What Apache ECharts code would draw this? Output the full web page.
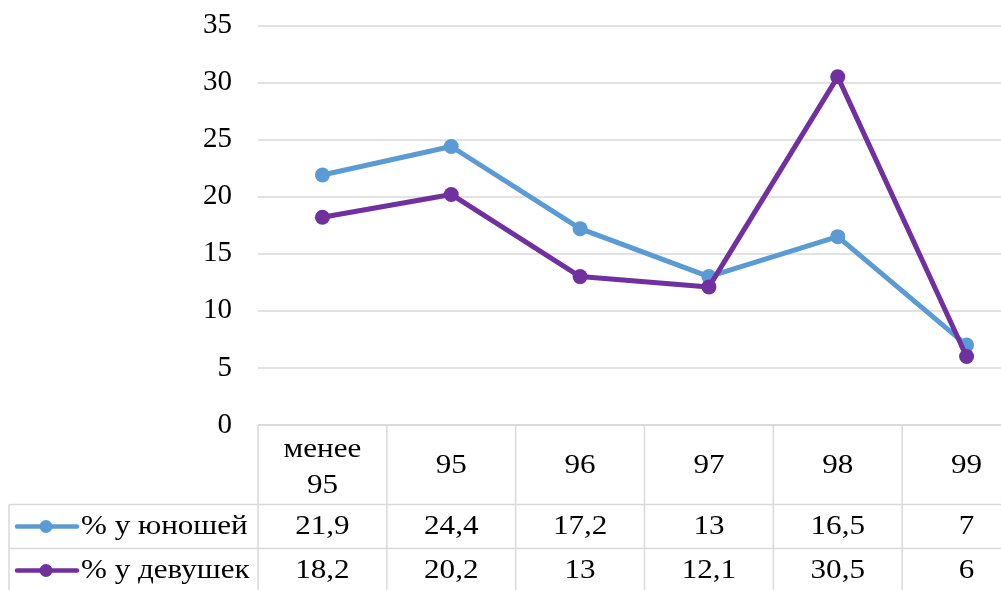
<!DOCTYPE html>
<html>
<head>
<meta charset="utf-8">
<script src="https://cdn.jsdelivr.net/npm/echarts@6/dist/echarts.min.js"></script>
<style>
  html, body { margin: 0; padding: 0; background: #fff; }
  #chart { width: 1001px; height: 590px; }
</style>
</head>
<body>
<div id="chart"></div>
<script>
// Category labels (header row of the data table)
const categories = ['менее\n95', '95', '96', '97', '98', '99'];

// Series names and values
const boysName = '% у юношей';
const girlsName = '% у девушек';
const boys = [21.9, 24.4, 17.2, 13, 16.5, 7];
const girls = [18.2, 20.2, 13, 12.1, 30.5, 6];

// Value axis range
const yMin = 0;
const yMax = 35;
const yStep = 5;

const BLUE = '#5B9BD5';
const PURPLE = '#7030A0';
const GRID_COLOR = '#d9d9d9';
const FONT = '"Liberation Serif", "Times New Roman", serif';
const AXIS_FONT_SIZE = 29;
const TABLE_FONT_SIZE = 28;
const TABLE_TEXT_STRETCH = 1.11;
const TEXT_COLOR = '#000';

const chart = echarts.init(document.getElementById('chart'), null, { renderer: 'canvas' });

function fmt(v) { return String(v).replace('.', ','); }

const lineSeries = (name, data, color) => ({
  name, type: 'line', data,
  symbol: 'circle', symbolSize: 15,
  lineStyle: { color, width: 5 },
  itemStyle: { color },
  z: color === PURPLE ? 4 : 3,
  animation: false
});

chart.setOption({
  animation: false,
  grid: {
    left: 258, top: 25.5, width: 773, height: 399.5,
    containLabel: false, outerBoundsMode: 'none'
  },
  xAxis: {
    type: 'category', data: categories, boundaryGap: true,
    axisLine: { show: false }, axisTick: { show: false }, axisLabel: { show: false },
    splitLine: { show: false }
  },
  yAxis: {
    type: 'value', min: yMin, max: yMax, interval: yStep,
    axisLine: { show: false }, axisTick: { show: false },
    axisLabel: { margin: 26, color: TEXT_COLOR, fontFamily: FONT, fontSize: AXIS_FONT_SIZE },
    splitLine: { lineStyle: { color: GRID_COLOR, width: 1.5 } }
  },
  series: [lineSeries(boysName, boys, BLUE), lineSeries(girlsName, girls, PURPLE)]
});

// Data table under the plot, positioned from the chart's own scales
function drawTable() {
  const centers = categories.map((c, i) => chart.convertToPixel({ xAxisIndex: 0 }, i));
  const band = centers[1] - centers[0];
  const xLeft = centers[0] - band / 2;
  const xRight = centers[centers.length - 1] + band / 2;
  const y0 = chart.convertToPixel({ yAxisIndex: 0 }, yMin);
  const headerH = 79.5;
  const rowH = 44;
  const y1 = y0 + headerH;
  const y2 = y1 + rowH;
  const y3 = y2 + rowH;
  const tableLeft = 9;

  const els = [];
  const line = (x1, yA, x2, yB) => els.push({
    type: 'line', silent: true, z: 1,
    shape: { x1, y1: yA, x2, y2: yB },
    style: { stroke: GRID_COLOR, lineWidth: 1.5 }
  });
  const text = (str, x, y, align) => els.push({
    type: 'text', silent: true, z: 5,
    x, y, scaleX: TABLE_TEXT_STRETCH,
    style: {
      text: str, x: 0, y: 0, align: align || 'center', verticalAlign: 'middle',
      font: TABLE_FONT_SIZE + 'px ' + FONT, fill: TEXT_COLOR, lineHeight: 36
    }
  });

  // horizontal borders
  line(xLeft, y0, xRight, y0);
  line(tableLeft, y1, xRight, y1);
  line(tableLeft, y2, xRight, y2);
  // vertical borders
  line(tableLeft, y1, tableLeft, y3);
  for (let i = 0; i <= categories.length; i++) {
    const x = xLeft + i * band;
    line(x, y0, x, y3);
  }

  // header row (two-line labels sit slightly lower in their cell)
  categories.forEach((c, i) => {
    const shift = c.indexOf('\n') >= 0 ? 3 : 1;
    text(c, centers[i], (y0 + y1) / 2 + shift);
  });

  // series rows
  const rows = [
    { name: boysName, data: boys, color: BLUE, yc: (y1 + y2) / 2 },
    { name: girlsName, data: girls, color: PURPLE, yc: (y2 + y3) / 2 }
  ];
  rows.forEach(r => {
    els.push({
      type: 'line', silent: true, z: 5,
      shape: { x1: 17, y1: r.yc, x2: 77, y2: r.yc },
      style: { stroke: r.color, lineWidth: 4.5, lineCap: 'round' }
    });
    els.push({
      type: 'circle', silent: true, z: 6,
      shape: { cx: 46, cy: r.yc, r: 6.5 },
      style: { fill: r.color }
    });
    text(r.name, 81, r.yc, 'left');
    r.data.forEach((v, i) => text(fmt(v), centers[i], r.yc));
  });

  chart.setOption({ graphic: { elements: els } });
}

drawTable();
</script>
</body>
</html>
